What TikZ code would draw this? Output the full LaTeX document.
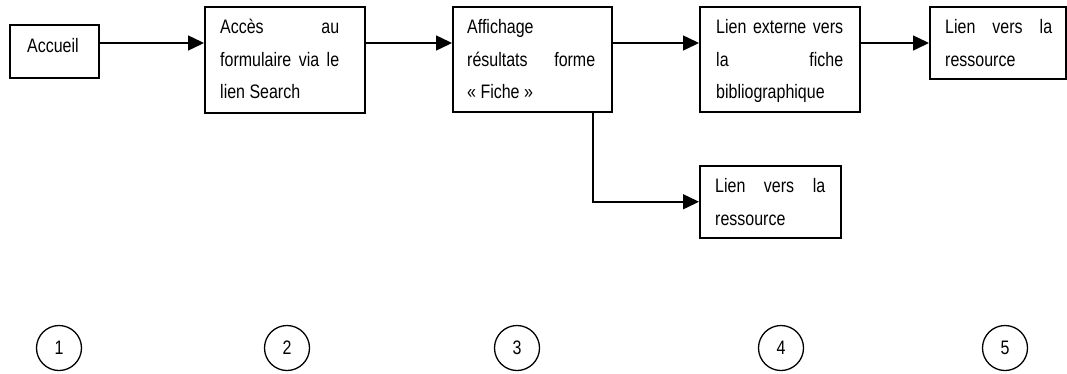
\documentclass[tikz,border=0pt]{standalone}
\usepackage{fontspec}
\setmainfont{Liberation Sans}[FakeStretch=0.82]
\usetikzlibrary{arrows.meta,calc}
\newcommand{\jline}[1]{\makebox[\linewidth][s]{#1}}
\newcommand{\btext}[2]{\parbox[t]{#1}{\fontsize{19.5}{32.5}\selectfont #2}}
\tikzset{
  stepbox/.style={draw, line width=1.5pt, inner sep=0pt, anchor=north west},
  txt/.style={inner sep=0pt, anchor=base west, font=\fontsize{19.5}{32.5}\selectfont},
  num/.style={draw, circle, line width=1.3pt, minimum size=45pt, inner sep=0pt, font=\fontsize{19.5}{23}\selectfont},
  arr/.style={line width=1.5pt, -{Triangle[length=16pt,width=15pt]}}
}
\begin{document}
\begin{tikzpicture}[x=1pt,y=1pt]
\useasboundingbox (0,0) rectangle (1067,-373);
% boxes
\node[stepbox, minimum width=89pt, minimum height=53pt] (b1) at (9,-24) {};
\node[stepbox, minimum width=160pt, minimum height=106pt] (b2) at (204,-6) {};
\node[stepbox, minimum width=159pt, minimum height=105pt] (b3) at (452,-6) {};
\node[stepbox, minimum width=160pt, minimum height=105pt] (b4) at (699,-6) {};
\node[stepbox, minimum width=136pt, minimum height=72pt] (b5) at (929,-6) {};
\node[stepbox, minimum width=141pt, minimum height=72pt] (b6) at (699,-165) {};
% texts
\node[txt] (t1) at ($(b1.north west)+(18,-28)$) {Accueil};
\node[txt] (t2) at ($(b2.north west)+(16,-27.5)$) {\btext{119pt}{\jline{Accès au}\\\jline{formulaire via le}\\lien Search}};
\node[txt] (t3) at ($(b3.north west)+(15,-27.5)$) {\btext{128pt}{Affichage\\\jline{résultats forme}\\« Fiche »}};
\node[txt] (t4) at ($(b4.north west)+(17,-27.5)$) {\btext{127pt}{\jline{Lien externe vers}\\\jline{la fiche}\\bibliographique}};
\node[txt] (t5) at ($(b5.north west)+(16,-27.5)$) {\btext{107pt}{\jline{Lien vers la}\\ressource}};
\node[txt] (t6) at ($(b6.north west)+(16,-27.5)$) {\btext{110pt}{\jline{Lien vers la}\\ressource}};
% connectors
\coordinate (ya) at (0,-43);
\coordinate (xd) at (593,0);
\draw[arr] (b1.east |- ya) -- (b2.west |- ya);
\draw[arr] (b2.east |- ya) -- (b3.west |- ya);
\draw[arr] (b3.east |- ya) -- (b4.west |- ya);
\draw[arr] (b4.east |- ya) -- (b5.west |- ya);
\draw[arr] (b3.south -| xd) |- (b6.west);
% step numbers
\node[num] (c1) at (59,-348) {1};
\node[num] (c2) at (287,-348) {2};
\node[num] (c3) at (517,-348) {3};
\node[num] (c4) at (781,-348) {4};
\node[num] (c5) at (1005,-348) {5};
\end{tikzpicture}
\end{document}
